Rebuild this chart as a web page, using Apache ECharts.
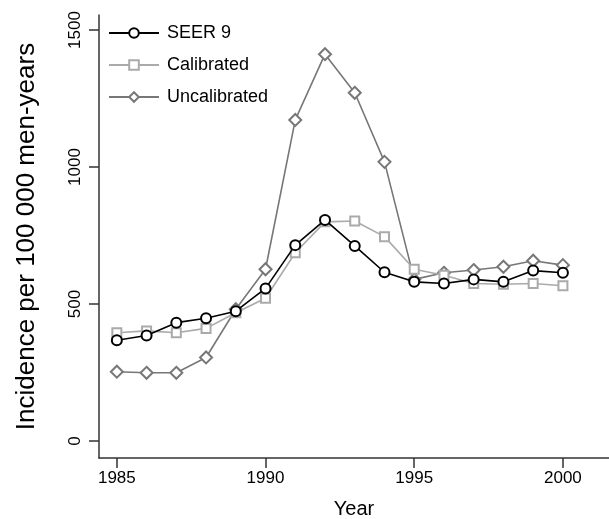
<!DOCTYPE html>
<html><head><meta charset="utf-8">
<script src="https://cdn.jsdelivr.net/npm/echarts@6/dist/echarts.min.js"></script>
<style>html,body{margin:0;padding:0;background:#fff}#c{width:609px;height:519px}</style>
</head><body><div id="c"></div>
<script>
const years = [1985,1986,1987,1988,1989,1990,1991,1992,1993,1994,1995,1996,1997,1998,1999,2000];
const seer9 = [368,385,432,448,474,557,715,807,712,616,581,575,590,581,622,614];
const calibrated = [395,402,395,411,468,521,687,800,803,746,627,605,575,572,575,567];
const uncalibrated = [253,249,249,305,481,627,1172,1412,1271,1019,590,614,624,636,658,642];
const xTicks = [1985,1990,1995,2000];
const yTicks = [0,500,1000,1500];

const font = 'Liberation Sans';
function pairs(v){ return years.map((y,i)=>[y,v[i]]); }
const chart = echarts.init(document.getElementById('c'));
chart.setOption({
  animation:false,
  backgroundColor:'#fff',
  textStyle:{fontFamily:font},
  grid:{left:99,right:0,top:15,bottom:61,containLabel:false,outerBoundsMode:'none'},
  legend:{
    left:108, top:24, padding:0, orient:'vertical', itemGap:14, itemWidth:50, itemHeight:12,
    textStyle:{fontSize:18,color:'#000',fontFamily:font,padding:[0,0,0,3]},
    data:['SEER 9','Calibrated','Uncalibrated']
  },
  xAxis:{
    type:'value', min:1984.4, max:2001.55,
    name:'Year', nameLocation:'middle', nameGap:41,
    nameTextStyle:{fontSize:20,color:'#000',fontFamily:font},
    axisLine:{show:true,onZero:false,lineStyle:{color:'#333',width:1.5}},
    axisTick:{show:true,length:10,lineStyle:{color:'#333',width:1.5},customValues:xTicks},
    axisLabel:{fontSize:17,color:'#000',margin:12,customValues:xTicks,fontFamily:font,formatter:v=>String(v)},
    splitLine:{show:false}
  },
  yAxis:{
    type:'value', min:-62, max:1555,
    name:'Incidence per 100 000 men-years', nameLocation:'middle', nameGap:59,
    nameTextStyle:{fontSize:26,color:'#000',fontFamily:font},
    axisLine:{show:true,onZero:false,lineStyle:{color:'#333',width:1.5}},
    axisTick:{show:true,length:10,lineStyle:{color:'#333',width:1.5},customValues:yTicks},
    axisLabel:{fontSize:17,color:'#000',rotate:90,margin:15,customValues:yTicks,fontFamily:font,formatter:v=>String(v)},
    splitLine:{show:false}
  },
  series:[
    {name:'Uncalibrated',type:'line',data:pairs(uncalibrated),symbol:'emptyDiamond',symbolSize:12,
     lineStyle:{color:'#777',width:1.6},itemStyle:{color:'#777',borderWidth:1.8},z:2},
    {name:'Calibrated',type:'line',data:pairs(calibrated),symbol:'emptyRect',symbolSize:9,
     lineStyle:{color:'#aaa',width:1.6},itemStyle:{color:'#aaa',borderWidth:1.8},z:3},
    {name:'SEER 9',type:'line',data:pairs(seer9),symbol:'emptyCircle',symbolSize:10,
     lineStyle:{color:'#000',width:1.6},itemStyle:{color:'#000',borderWidth:1.8},z:4}
  ]
});
</script></body></html>
